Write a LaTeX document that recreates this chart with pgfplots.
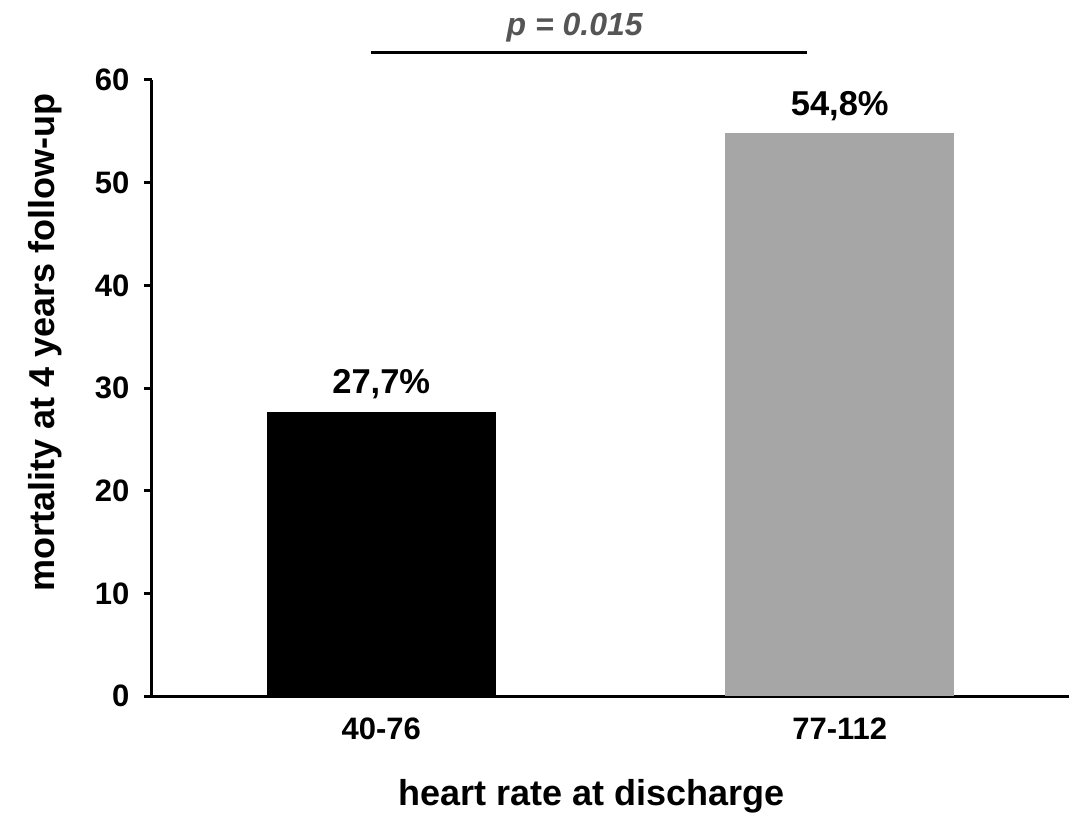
\documentclass[border=0pt]{standalone}
\usepackage{fontspec}
\setmainfont{Liberation Sans}
\usepackage{pgfplots}
\pgfplotsset{compat=1.18}
\definecolor{bargray}{HTML}{A6A6A6}
\definecolor{ptext}{HTML}{555555}
\begin{document}
\begin{tikzpicture}
\useasboundingbox (0,0) rectangle (1090pt,817pt);
\begin{axis}[
  at={(152pt,121pt)}, anchor=south west,
  scale only axis, width=917pt, height=616pt,
  xmin=-0.5, xmax=1.5, ymin=0, ymax=60,
  axis lines*=left,
  axis line style={line width=3pt, black},
  xtick={0,1}, xticklabels={40-76,77-112},
  ytick={0,10,...,60},
  xtick style={draw=none},
  ytick style={line width=3pt, black},
  tick align=outside, major tick length=8pt,
  /pgf/number format/assume math mode=true,
  ticklabel style={font=\fontsize{31}{36}\selectfont\bfseries},
  xticklabel style={yshift=-10pt},
  yticklabel style={xshift=-11pt},
  xlabel={heart rate at discharge},
  ylabel={mortality at 4 years follow-up},
  label style={font=\fontsize{36}{42}\selectfont\bfseries},
  xlabel style={at={(axis description cs:0.479,-0.177)}, anchor=base},
  ylabel style={at={(axis description cs:-0.1058,0.574)}, anchor=base, rotate=0},
  clip=false,
  point meta=explicit symbolic,
  nodes near coords,
  every node near coord/.append style={font=\fontsize{34.5}{40}\selectfont\bfseries, anchor=base, yshift=18pt, inner sep=0pt, black},
]
\addplot[ybar, bar width=0.5, bar shift=0pt, fill=black, draw=none] coordinates {(0,27.7) [{27,7\%}]};
\addplot[ybar, bar width=0.5, bar shift=0pt, fill=bargray, draw=none] coordinates {(1,54.8) [{54,8\%}]};
\draw[line width=3pt, black] (axis cs:-0.023,62.63) -- (axis cs:0.928,62.63);
\node[anchor=base, text=ptext, font=\fontsize{32}{38}\selectfont\bfseries\itshape, inner sep=0pt] at (axis cs:0.422,64.38) {p = 0.015};
\end{axis}
\end{tikzpicture}
\end{document}
